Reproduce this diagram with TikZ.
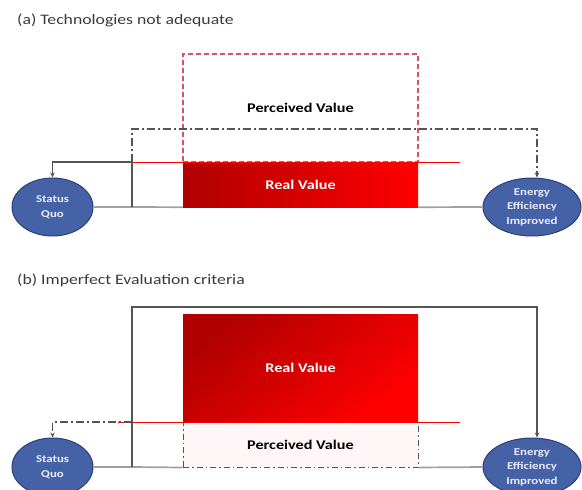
\documentclass[tikz,border=0pt]{standalone}
\usepackage{fontspec}
\setmainfont[FakeStretch=1.22]{Carlito}
\usetikzlibrary{shapes.geometric,arrows.meta}
\definecolor{ovalfill}{HTML}{4662A6}
\definecolor{ovaledge}{HTML}{2B3F78}
\definecolor{deepred}{HTML}{B00000}
\definecolor{brightred}{HTML}{FF0000}
\definecolor{pinkdash}{HTML}{D9505E}
\definecolor{linkgray}{HTML}{555555}
\definecolor{basegray}{HTML}{A0A0A0}
\definecolor{titlegray}{HTML}{3A3A3A}
\tikzset{
  oval/.style={ellipse, draw=ovaledge, line width=1pt, fill=ovalfill, inner sep=0pt,
    text=white!92!blue, font=\fontsize{10.5}{14.5}\selectfont\bfseries, align=center},
  paneltitle/.style={anchor=west, text=titlegray, font=\fontsize{14.5}{16}\selectfont, inner sep=0pt},
  valuelabel/.style={font=\fontsize{13.3}{15}\selectfont\bfseries},
  linkline/.style={draw=linkgray, line width=1.4pt},
  baseline/.style={draw=basegray, line width=1.7pt},
  dashdot/.style={draw=linkgray, line width=1.4pt, dash pattern=on 8pt off 3pt on 2pt off 3pt},
  redrule/.style={draw=brightred, line width=0.7pt},
  tip/.style={-{Stealth[length=5pt,width=4.5pt]}}
}
\begin{document}
\begin{tikzpicture}[x=1pt,y=-1pt]
\useasboundingbox (0,0) rectangle (582,490);

%% ---------- (a) Technologies not adequate ----------
\node[paneltitle] (titleA) at (17,20) {(a) Technologies not adequate};

\node[oval, minimum width=81pt, minimum height=58pt] (sqA) at (52.5,207) {Status\\Quo};
\node[oval, minimum width=98pt, minimum height=58pt] (eeA) at (532,207) {Energy\\Efficiency\\Improved};

% real value bar
\node[shade, left color=deepred, right color=brightred, minimum width=235pt, minimum height=45pt,
      inner sep=0pt, text=white, valuelabel] (realA) at (300.5,184.5) {Real Value};

% perceived value (dashed outline)
\node[draw=pinkdash, line width=1.4pt, dash pattern=on 5pt off 3pt, minimum width=235pt,
      minimum height=108pt, inner sep=0pt, valuelabel] (percA) at (300.5,108) {Perceived Value};

% reference rule at the top of the real value bar
\coordinate (ruleAl) at (118,162);
\coordinate (ruleAr) at (460,162);
\draw[redrule] (ruleAl) -- (ruleAr);

% junction points
\coordinate (jA1) at (132,207);
\coordinate (jA2) at (132,162);
\coordinate (jA3) at (132,129);

% base line through the bar
\draw[baseline] (sqA.east) -- (jA1) -- (realA.south west);
\draw[baseline] (realA.south east) -- (eeA.west);

% back to status quo
\draw[linkline, tip] (jA1) -- (jA2) -| (sqA.north);

% dash-dot path up to energy efficiency
\draw[dashdot, tip] (jA2) -- (jA3) -| ([xshift=5pt]eeA.north);

%% ---------- (b) Imperfect Evaluation criteria ----------
\node[paneltitle] (titleB) at (17,280) {(b) Imperfect Evaluation criteria};

\node[oval, minimum width=81pt, minimum height=58pt] (sqB) at (52.5,467) {Status\\Quo};
\node[oval, minimum width=98pt, minimum height=58pt] (eeB) at (532,467) {Energy\\Efficiency\\Improved};

% real value block
\node[shade, top color=deepred, bottom color=brightred, shading angle=40,
      minimum width=235pt, minimum height=108pt, inner sep=0pt, text=white, valuelabel]
      (realB) at (300.5,368) {Real Value};

% perceived value block
\node[fill=red!3, draw=linkgray, line width=1pt, dash pattern=on 6pt off 3pt on 1.5pt off 3pt,
      minimum width=235pt, minimum height=45pt, inner sep=0pt, valuelabel] (percB) at (300.5,444.5) {Perceived Value};

\coordinate (ruleBl) at (118,422);
\coordinate (ruleBr) at (460,422);
\draw[redrule] (ruleBl) -- (ruleBr);

\coordinate (jB1) at (132,467);
\coordinate (jB2) at (132,422);
\coordinate (jB3) at (132,307);

% base line
\draw[baseline] (sqB.east) -- (jB1) -- (percB.south west);
\draw[baseline] (percB.south east) -- (eeB.west);

% solid path over the top to energy efficiency
\draw[linkline, tip] (jB1) -- (jB3) -| ([xshift=5pt]eeB.north);

% dash-dot path back to status quo
\draw[dashdot, tip] (jB2) -| (sqB.north);
\end{tikzpicture}
\end{document}
